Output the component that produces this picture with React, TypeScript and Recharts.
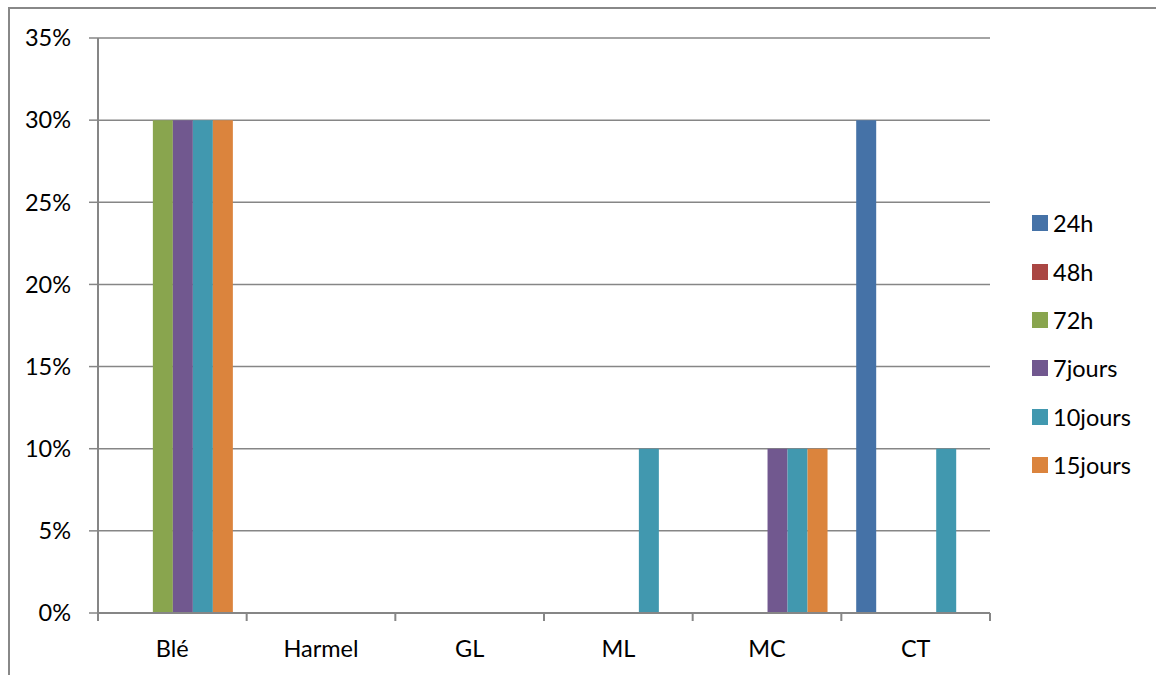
import { BarChart, Bar, XAxis, YAxis, CartesianGrid } from 'recharts';

const categories = ['Blé', 'Harmel', 'GL', 'ML', 'MC', 'CT'];
const seriesNames = ['24h', '48h', '72h', '7jours', '10jours', '15jours'];
const seriesColors = ['#4572A7', '#AA4643', '#89A54E', '#71588F', '#4198AF', '#DB843D'];

// one array per series, values in order of categories
const v24h = [0, 0, 0, 0, 0, 0.3];
const v48h = [0, 0, 0, 0, 0, 0];
const v72h = [0.3, 0, 0, 0, 0, 0];
const v7jours = [0.3, 0, 0, 0, 0.1, 0];
const v10jours = [0.3, 0, 0, 0.1, 0.1, 0.1];
const v15jours = [0.3, 0, 0, 0, 0.1, 0];

const yTicks = [0, 0.05, 0.1, 0.15, 0.2, 0.25, 0.3, 0.35];

const allValues = [v24h, v48h, v72h, v7jours, v10jours, v15jours];

const data = categories.map((name, i) => {
  const row: any = { name };
  seriesNames.forEach((s, j) => {
    row[s] = allValues[j][i];
  });
  return row;
});

const FONT = 'Lato, "Open Sans", sans-serif';
const FS = 23.5;
const GRID = '#868686';

const CategoryTick = (props: any) => {
  const { x, y, payload, index, visibleTicksCount } = props;
  const half = payload.offset || 892 / 12;
  const isLast = index === visibleTicksCount - 1;
  return (
    <g>
      <line x1={x - half} y1={y} x2={x - half} y2={y + 8} stroke={GRID} strokeWidth={2} />
      {isLast && <line x1={x + half} y1={y} x2={x + half} y2={y + 8} stroke={GRID} strokeWidth={2} />}
      <text x={x} y={y + 35} textAnchor="middle" dominantBaseline="central" fill="#000" fontSize={FS} fontWeight={400} fontFamily={FONT}>
        {payload.value}
      </text>
    </g>
  );
};

export default function App() {
  return (
    <div style={{ position: 'absolute', left: 0, top: 0, width: 1156, height: 675, background: '#fff', overflow: 'hidden' }}>
      <div style={{ position: 'absolute', left: 8, top: 7, width: 1160, height: 700, border: '2px solid #888', boxSizing: 'border-box' }} />
      <BarChart
        width={1156}
        height={675}
        data={data}
        margin={{ top: 38, right: 166, bottom: 22, left: 10 }}
        barCategoryGap="10%"
        barGap={0}
      >
        <CartesianGrid vertical={false} stroke={GRID} strokeWidth={1.5} />
        <XAxis
          dataKey="name"
          height={40}
          tick={<CategoryTick />}
          tickLine={false}
          tickSize={0}
          tickMargin={0}
          axisLine={{ stroke: GRID, strokeWidth: 2 }}
          interval={0}
        />
        <YAxis
          width={88}
          domain={[0, 0.35]}
          ticks={yTicks}
          interval={0}
          tickFormatter={(v: number) => `${Math.round(v * 100)}%`}
          tick={{ fill: '#000', fontSize: FS, fontFamily: FONT }}
          tickLine={{ stroke: GRID, strokeWidth: 1.5 }}
          tickSize={9}
          tickMargin={18}
          axisLine={{ stroke: GRID, strokeWidth: 2 }}
        />
        {seriesNames.map((s, j) => (
          <Bar key={s} dataKey={s} fill={seriesColors[j]} isAnimationActive={false} />
        ))}
      </BarChart>
      <div style={{ position: 'absolute', left: 1032, top: 199, fontFamily: FONT, fontSize: FS, color: '#000' }}>
        {seriesNames.map((s, j) => (
          <div key={s} style={{ display: 'flex', alignItems: 'center', height: 48.4 }}>
            <span style={{ display: 'inline-block', width: 16, height: 16, background: seriesColors[j], marginRight: 5 }} />
            <span>{s}</span>
          </div>
        ))}
      </div>
    </div>
  );
}
